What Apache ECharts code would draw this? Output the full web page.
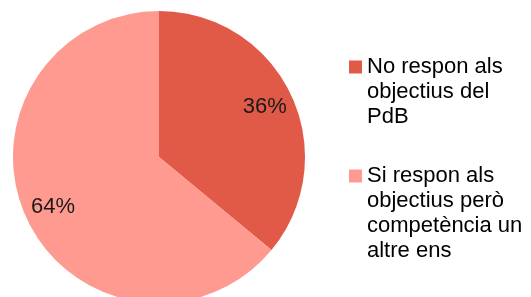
<!DOCTYPE html>
<html>
<head>
<meta charset="utf-8">
<script src="https://cdn.jsdelivr.net/npm/echarts@6/dist/echarts.min.js"></script>
<style>
  html, body { margin: 0; padding: 0; background: #fff; }
  #chart { width: 531px; height: 297px; }
</style>
</head>
<body>
<div id="chart"></div>
<script>
  // dades del gràfic
  var categories = ['No respon als\nobjectius del\nPdB', 'Si respon als\nobjectius però\ncompetència un\naltre ens'];
  var values = [36, 64];
  var colors = ['#e05a47', '#ff9a91'];

  var myChart = echarts.init(document.getElementById('chart'));

  var pieData = categories.map(function (name, i) {
    return { name: name, value: values[i], itemStyle: { color: colors[i] } };
  });

  var legendText = {
    fontFamily: 'Liberation Sans, Arial, sans-serif',
    fontSize: 22,
    lineHeight: 25,
    color: '#000'
  };

  // quadrat alineat amb la primera línia del text (icona alta = alçada del text)
  function tallIcon(h) {
    return 'path://M0,0L0,0M0,6H13V19H0ZM13,' + h + 'L13,' + h;
  }

  var option = {
    backgroundColor: '#fff',
    animation: false,
    legend: [{
      orient: 'vertical',
      left: 349,
      top: 54.5,
      padding: 0,
      itemWidth: 13,
      itemHeight: 75,
      itemGap: 5,
      selectedMode: false,
      data: [{ name: categories[0], icon: tallIcon(75) }],
      textStyle: legendText
    }, {
      orient: 'vertical',
      left: 349,
      top: 163.5,
      padding: 0,
      itemWidth: 13,
      itemHeight: 100,
      itemGap: 5,
      selectedMode: false,
      data: [{ name: categories[1], icon: tallIcon(100) }],
      textStyle: legendText
    }],
    series: [{
      // pastís
      type: 'pie',
      center: [159, 157],
      radius: [0, 146],
      startAngle: 90,
      clockwise: true,
      silent: true,
      label: { show: false },
      labelLine: { show: false },
      itemStyle: { borderWidth: 0 },
      data: pieData
    }, {
      // només per a les etiquetes de percentatge
      type: 'pie',
      center: [159, 157],
      radius: [82, 146],
      startAngle: 90,
      clockwise: true,
      silent: true,
      itemStyle: { color: 'transparent', borderWidth: 0 },
      label: {
        show: true,
        position: 'inside',
        formatter: '{c}%',
        fontFamily: 'Liberation Sans, Arial, sans-serif',
        fontSize: 22,
        color: '#1a1a1a'
      },
      labelLine: { show: false },
      data: categories.map(function (name, i) {
        return { name: name, value: values[i] };
      })
    }]
  };

  myChart.setOption(option);
</script>
</body>
</html>
